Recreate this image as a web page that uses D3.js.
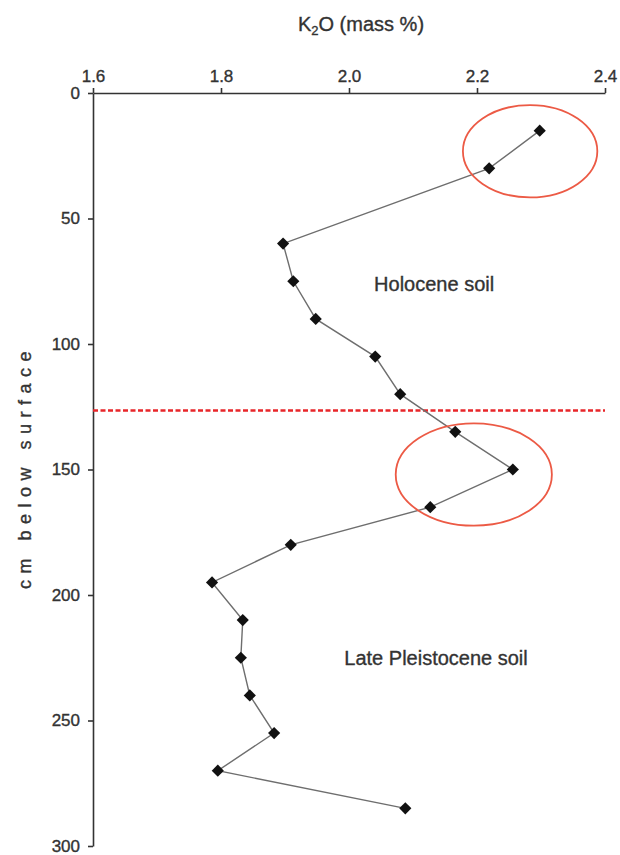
<!DOCTYPE html>
<html>
<head>
<meta charset="utf-8">
<script src="https://cdn.jsdelivr.net/npm/d3@7"></script>
<style>
  body { margin: 0; background: #fff; }
  text { font-family: "Liberation Sans", Arial, sans-serif; fill: #333; stroke: #333; stroke-width: 0.35px; }
</style>
</head>
<body>
<div id="chart-container"></div>
<script>
// depth below surface (cm) and K2O content (mass %)
const depths = [15, 30, 60, 75, 90, 105, 120, 135, 150, 165, 180, 195, 210, 225, 240, 255, 270, 285];
const k2o = [2.298, 2.219, 1.897, 1.913, 1.948, 2.041, 2.080, 2.166, 2.256, 2.127, 1.909, 1.786, 1.834, 1.831, 1.845, 1.883, 1.795, 2.088];

const xTicks = [1.6, 1.8, 2.0, 2.2, 2.4];
const yTicks = [0, 50, 100, 150, 200, 250, 300];

// soil boundary depth and highlighted zones (centre x, centre depth, half-width, half-depth)
const boundaryDepth = 126.5;
const zones = [
  { cx: 2.283, cy: 23.2, rx: 0.105, ry: 18.4 },
  { cx: 2.195, cy: 152, rx: 0.122, ry: 20.4 }
];
const soilLabels = [
  { text: "Holocene soil", x: 2.133, y: 76 },
  { text: "Late Pleistocene soil", x: 2.136, y: 225 }
];

const MARGIN = { left: 93, right: 15, top: 93, bottom: 9 };
const WIDTH = 620 - MARGIN.left - MARGIN.right;
const HEIGHT = 855 - MARGIN.top - MARGIN.bottom;

const svg = d3.select("#chart-container").append("svg")
  .attr("width", 620)
  .attr("height", 855);

const g = svg.append("g")
  .attr("transform", `translate(${MARGIN.left},${MARGIN.top})`);

const x = d3.scaleLinear().domain([1.6, 2.4]).range([0, WIDTH]);
const y = d3.scaleLinear().domain([0, 300]).range([0, HEIGHT]);

const xAxis = d3.axisTop(x)
  .tickValues(xTicks)
  .tickFormat(d3.format(".1f"))
  .tickSizeInner(5)
  .tickSizeOuter(0)
  .tickPadding(6);

const yAxis = d3.axisLeft(y)
  .tickValues(yTicks)
  .tickSizeInner(5)
  .tickSizeOuter(0)
  .tickPadding(8);

const xAxisGroup = g.append("g").attr("class", "x axis").call(xAxis);
const yAxisGroup = g.append("g").attr("class", "y axis").call(yAxis);

[xAxisGroup, yAxisGroup].forEach(a => {
  a.select(".domain").attr("stroke", "#333").attr("stroke-width", 1.6);
  a.selectAll(".tick line").attr("stroke", "#333").attr("stroke-width", 1.6);
  a.selectAll(".tick text")
    .style("font-size", "17px")
    .style("font-family", "'Liberation Sans', Arial, sans-serif")
    .attr("fill", "#333");
});

// title
const title = svg.append("text")
  .attr("x", 361)
  .attr("y", 31)
  .attr("text-anchor", "middle")
  .style("font-size", "20px");
title.append("tspan").text("K");
title.append("tspan").attr("baseline-shift", "-30%").style("font-size", "13px").text("2");
title.append("tspan").text("O (mass %)");

// y label
svg.append("text")
  .attr("transform", `translate(31, ${MARGIN.top + y(149)}) rotate(-90)`)
  .attr("text-anchor", "middle")
  .style("font-size", "18px")
  .style("letter-spacing", "6.5px")
  .text("cm below surface");

// boundary line
g.append("line")
  .attr("x1", x(1.6))
  .attr("x2", x(2.4))
  .attr("y1", y(boundaryDepth))
  .attr("y2", y(boundaryDepth))
  .attr("stroke", "#e8262a")
  .attr("stroke-width", 2.6)
  .attr("stroke-dasharray", "5,2.5");

// profile line
const line = d3.line()
  .x((d, i) => x(k2o[i]))
  .y(d => y(d));

g.append("path")
  .datum(depths)
  .attr("fill", "none")
  .attr("stroke", "#6e6e6e")
  .attr("stroke-width", 1.4)
  .attr("d", line);

// markers
g.selectAll(".marker")
  .data(depths)
  .enter().append("path")
  .attr("class", "marker")
  .attr("d", d3.symbol().type(d3.symbolSquare).size(74))
  .attr("transform", (d, i) => `translate(${x(k2o[i])},${y(d)}) rotate(45)`)
  .attr("fill", "#111");

// highlighted zones
g.selectAll(".zone")
  .data(zones)
  .enter().append("ellipse")
  .attr("class", "zone")
  .attr("cx", d => x(d.cx))
  .attr("cy", d => y(d.cy))
  .attr("rx", d => x(d.cx + d.rx) - x(d.cx))
  .attr("ry", d => y(d.cy + d.ry) - y(d.cy))
  .attr("fill", "none")
  .attr("stroke", "#ec5a45")
  .attr("stroke-width", 1.8);

// soil labels
g.selectAll(".soil")
  .data(soilLabels)
  .enter().append("text")
  .attr("class", "soil")
  .attr("x", d => x(d.x))
  .attr("y", d => y(d.y))
  .attr("dy", "0.35em")
  .attr("text-anchor", "middle")
  .style("font-size", "20px")
  .text(d => d.text);
</script>
</body>
</html>
